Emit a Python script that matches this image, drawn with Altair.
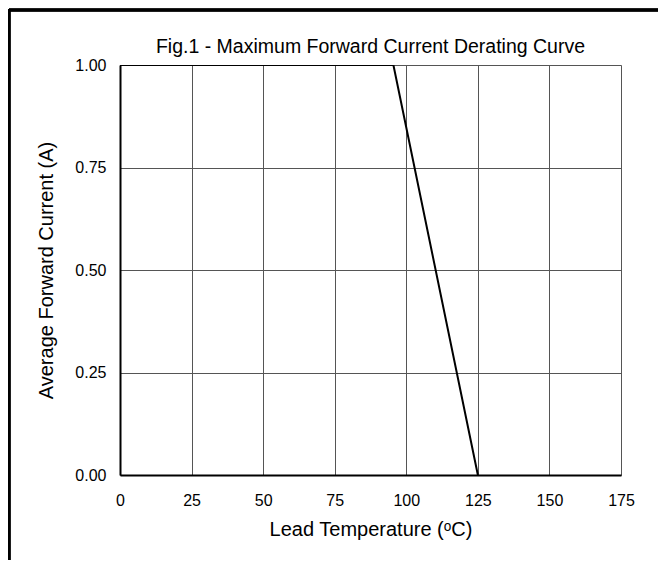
import altair as alt
import pandas as pd

temps = [0, 95.5, 125]
currents = [1.0, 1.0, 0.0]
x_ticks = [0, 25, 50, 75, 100, 125, 150, 175]
y_ticks = [0.0, 0.25, 0.5, 0.75, 1.0]
title_text = ["Fig.1 - Maximum Forward Current Derating Curve"]

df = pd.DataFrame({"t": temps, "i": currents})
FONT = "Liberation Sans"

line = alt.Chart(df).mark_line(color="black", strokeWidth=2, clip=True).encode(
    x=alt.X("t:Q", scale=alt.Scale(domain=[0, 175], nice=False),
            axis=alt.Axis(values=x_ticks, title="Lead Temperature (ᵒC)", format="d",
                          grid=True, gridColor="#555", gridWidth=1, labelFlush=False,
                          domainColor="black", domainWidth=2, ticks=False,
                          labelPadding=17, titlePadding=11,
                          labelFont=FONT, labelFontSize=16, labelColor="black",
                          titleFont=FONT, titleFontSize=20, titleFontWeight="normal",
                          titleColor="black")),
    y=alt.Y("i:Q", scale=alt.Scale(domain=[0, 1], nice=False),
            axis=alt.Axis(values=y_ticks, title="Average Forward Current (A)", format=".2f",
                          grid=True, gridColor="#555", gridWidth=1, labelFlush=False,
                          domainColor="black", domainWidth=2, ticks=False,
                          labelPadding=14, titlePadding=18,
                          labelFont=FONT, labelFontSize=16, labelColor="black",
                          titleFont=FONT, titleFontSize=20, titleFontWeight="normal",
                          titleColor="black")),
)

title = alt.Chart(pd.DataFrame({"label": title_text})).mark_text(
    font=FONT, fontSize=19.5, color="black", align="center", baseline="alphabetic"
).encode(text="label:N", x=alt.value(250.5), y=alt.value(-12))

border_top = alt.Chart(df).mark_rule(color="black", strokeWidth=3).encode(
    x=alt.value(-111), x2=alt.value(560), y=alt.value(-55)
)
border_left = alt.Chart(df).mark_rule(color="black", strokeWidth=3).encode(
    x=alt.value(-111), y=alt.value(-56), y2=alt.value(510)
)

chart = alt.layer(line, title, border_top, border_left).properties(
    width=501, height=410,
    autosize=alt.AutoSizeParams(type="none"),
    padding={"left": 112, "top": 57, "right": 37, "bottom": 85},
).configure_view(stroke="black", strokeWidth=1).configure(background="white")

chart.save("out.html", embed_options={"renderer": "svg", "actions": False})
